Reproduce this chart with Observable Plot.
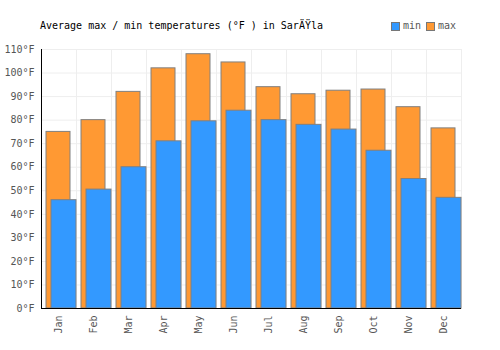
<!DOCTYPE html>
<html>
<head>
<meta charset="utf-8">
<script src="https://cdn.jsdelivr.net/npm/d3@7"></script>
<script src="https://cdn.jsdelivr.net/npm/@observablehq/plot@0.6"></script>
<style>
  html, body { margin: 0; padding: 0; background: #fff; }
  #wrap { position: relative; width: 500px; height: 350px; font-family: "DejaVu Sans Mono", monospace; }
  #title { position: absolute; left: 40px; top: 20px; font-size: 10px; line-height: 12px; color: #000; white-space: pre; }
  #legend { position: absolute; left: 391px; top: 20px; font-size: 10px; line-height: 12px; color: #555; display: flex; align-items: center; }
  .sw { display: inline-block; width: 7px; height: 7px; border: 1px solid #777; margin-right: 3px; }
  .item { display: flex; align-items: center; margin-right: 5px; }
  #chart { position: absolute; left: 0; top: 0; }
</style>
</head>
<body>
<div id="wrap">
  <div id="chart"></div>
  <div id="title"></div>
  <div id="legend"></div>
</div>
<script>
const titleText = "Average max / min temperatures (°F ) in SarÄŸla";
const months = ["Jan","Feb","Mar","Apr","May","Jun","Jul","Aug","Sep","Oct","Nov","Dec"];
const minTemps = [46, 50.5, 60, 71, 79.5, 84, 80, 78, 76, 67, 55, 47];
const maxTemps = [75, 80, 92, 102, 108, 104.5, 94, 91, 92.5, 93, 85.5, 76.5];
const seriesNames = ["min", "max"];
const seriesColors = ["#3399ff", "#ff9933"];
const yTicks = [0,10,20,30,40,50,60,70,80,90,100,110];

const data = months.map((m, i) => ({month: m, min: minTemps[i], max: maxTemps[i]}));

const chart = Plot.plot({
  width: 500,
  height: 350,
  marginLeft: 41,
  marginRight: 39,
  marginTop: 49,
  marginBottom: 42,
  style: {fontFamily: "DejaVu Sans Mono, monospace", fontSize: "10px", color: "#555", background: "#fff"},
  x: {type: "band", domain: months, padding: 0, label: null},
  y: {domain: [0, 110], label: null},
  marks: [
    Plot.gridY(yTicks, {stroke: "#eeeeee", strokeOpacity: 1, strokeWidth: 1}),
    Plot.ruleX(months, {x: d => d, dx: -17.5, stroke: "#eeeeee", strokeWidth: 1}),
    Plot.frame({stroke: "#eeeeee", strokeWidth: 1}),
    Plot.barY(data, {x: "month", y: "max", fill: seriesColors[1], stroke: "#808080", strokeWidth: 1, insetLeft: 5, insetRight: 6}),
    Plot.barY(data, {x: "month", y: "min", fill: seriesColors[0], stroke: "#808080", strokeWidth: 1, insetLeft: 10, insetRight: 0}),
    Plot.axisY(yTicks, {tickFormat: d => d + "°F", tickSize: 0, tickPadding: 7, fill: "#555", label: null}),
    Plot.axisX({tickRotate: -90, tickSize: 0, tickPadding: 7, fill: "#555", label: null}),
    Plot.ruleX([0], {x: () => months[0], dx: -17.5, y1: 0, y2: 110, stroke: "#000", strokeWidth: 1}),
    Plot.ruleY([0], {stroke: "#000", strokeWidth: 1})
  ]
});
document.getElementById("chart").appendChild(chart);
document.getElementById("title").textContent = titleText;

const legend = document.getElementById("legend");
seriesNames.forEach((n, i) => {
  const item = document.createElement("span");
  item.className = "item";
  const sw = document.createElement("span");
  sw.className = "sw";
  sw.style.background = seriesColors[i];
  const t = document.createElement("span");
  t.textContent = n;
  item.appendChild(sw);
  item.appendChild(t);
  legend.appendChild(item);
});
</script>
</body>
</html>
